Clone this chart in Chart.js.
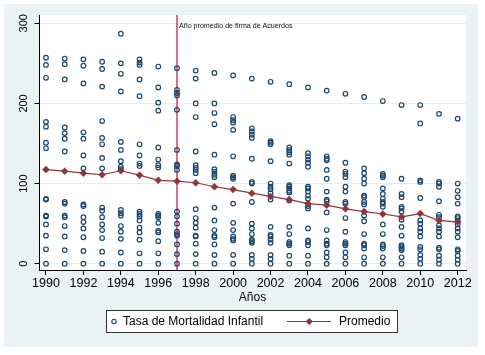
<!DOCTYPE html>
<html>
<head>
<meta charset="utf-8">
<script src="https://cdn.jsdelivr.net/npm/chart.js@4.4.1/dist/chart.umd.min.js"></script>
<style>
  html, body { margin: 0; padding: 0; background: #fff; }
  canvas { display: block; }
</style>
</head>
<body>
<canvas id="chart" width="485" height="355"></canvas>
<script>
const years = [1990, 1991, 1992, 1993, 1994, 1995, 1996, 1997, 1998, 1999, 2000, 2001,
    2002, 2003, 2004, 2005, 2006, 2007, 2008, 2009, 2010, 2011, 2012]

// tasa de mortalidad infantil, un arreglo por año
const t1990 = [257, 248, 232, 177, 171, 151, 144, 81, 80, 60, 59, 49, 35, 18, 0]
const t1991 = [256, 249, 230, 170, 163, 156, 140, 77, 75, 60, 58, 47, 34, 17, 0]
const t1992 = [255, 247, 225, 164, 156, 135, 119, 74, 72, 58, 52, 44, 33, 16, 0]
const t1993 = [252, 243, 221, 178, 157, 149, 132, 119, 70, 66, 58, 49, 42, 32, 15, 0]
const t1994 = [287, 250, 237, 215, 152, 142, 128, 121, 118, 67, 63, 60, 47, 40, 31, 14, 0]
const t1995 = [255, 251, 248, 230, 209, 149, 135, 125, 122, 65, 62, 59, 54, 45, 39, 30, 13, 0]
const t1996 = [246, 220, 201, 191, 145, 130, 123, 120, 62, 60, 58, 51, 41, 39, 28, 13, 0]
const t1997 = [244, 217, 213, 210, 192, 142, 124, 122, 117, 65, 59, 50, 40, 37, 35, 24, 12, 0]
const t1998 = [241, 231, 200, 183, 140, 123, 120, 117, 113, 68, 57, 51, 45, 35, 34, 25, 12, 0]
const t1999 = [238, 200, 188, 174, 136, 118, 115, 111, 108, 70, 54, 42, 35, 33, 24, 11, 0]
const t2000 = [235, 183, 179, 176, 167, 134, 110, 108, 106, 75, 51, 42, 34, 31, 29, 11, 0]
const t2001 = [231, 169, 165, 161, 157, 131, 102, 100, 77, 50, 44, 37, 30, 28, 26, 11, 6, 0]
const t2002 = [227, 153, 151, 149, 128, 100, 96, 93, 88, 80, 46, 36, 34, 30, 26, 11, 6, 0]
const t2003 = [224, 145, 142, 139, 136, 125, 98, 96, 94, 91, 89, 79, 46, 37, 27, 25, 23, 10, 0]
const t2004 = [220, 138, 134, 130, 126, 121, 96, 94, 90, 85, 81, 72, 69, 44, 29, 27, 23, 10, 0]
const t2005 = [216, 134, 131, 129, 117, 106, 90, 80, 78, 64, 42, 29, 25, 23, 14, 8, 0]
const t2006 = [212, 126, 115, 112, 108, 96, 90, 77, 75, 57, 40, 27, 25, 23, 14, 8, 0]
const t2007 = [208, 119, 113, 106, 100, 85, 83, 77, 74, 60, 53, 37, 25, 23, 19, 8, 0]
const t2008 = [203, 112, 110, 108, 94, 87, 81, 77, 75, 71, 49, 37, 24, 22, 19, 8, 0]
const t2009 = [198, 106, 87, 83, 71, 69, 65, 55, 46, 35, 23, 21, 19, 17, 8, 0]
const t2010 = [198, 175, 104, 102, 82, 54, 50, 44, 40, 34, 21, 18, 11, 6, 0]
const t2011 = [187, 102, 100, 96, 78, 61, 58, 48, 44, 40, 34, 20, 18, 10, 5, 0]
const t2012 = [181, 100, 91, 83, 75, 59, 57, 54, 49, 44, 40, 33, 18, 16, 10, 5, 0]

const tasas = [t1990, t1991, t1992, t1993, t1994, t1995, t1996, t1997, t1998, t1999, t2000,
    t2001, t2002, t2003, t2004, t2005, t2006, t2007, t2008, t2009, t2010, t2011, t2012]

const promedio = [117.5, 115.5, 113, 111, 116, 110.5, 104, 103, 101, 96, 92.5, 88,
    84, 80, 75, 73, 68.5, 65, 62, 58.5, 62.5, 54, 52]

const xTicks = [1990, 1992, 1994, 1996, 1998, 2000, 2002, 2004, 2006, 2008, 2010, 2012]
const yTicks = [0, 100, 200, 300]
const anioAcuerdos = 1997

const navy = "#1a476f"
const maroon = "#90353b"
const fontFamily = "'Liberation Sans', Arial, Helvetica, sans-serif"

const puntos = years.flatMap((yr, i) => tasas[i].map(v => ({ x: yr, y: v })))
const linea = years.map((yr, i) => ({ x: yr, y: promedio[i] }))

const fondo = {
    id: "fondo",
    beforeDraw(chart) {
        const { ctx, chartArea: a } = chart
        ctx.save()
        ctx.fillStyle = "#ffffff"
        ctx.fillRect(0, 0, chart.width, chart.height)
        ctx.fillStyle = "#eaf2f3"
        ctx.fillRect(4, 4, 474, 343)
        ctx.fillStyle = "#ffffff"
        ctx.fillRect(a.left, a.top, a.right - a.left, a.bottom - a.top)
        ctx.restore()
    }
}

const lineaAcuerdos = {
    id: "lineaAcuerdos",
    beforeDatasetsDraw(chart) {
        const { ctx, chartArea: a, scales } = chart
        const px = scales.x.getPixelForValue(anioAcuerdos)
        ctx.save()
        ctx.strokeStyle = "#c8143c"
        ctx.lineWidth = 1.2
        ctx.beginPath()
        ctx.moveTo(px, a.top)
        ctx.lineTo(px, a.bottom)
        ctx.stroke()
        ctx.fillStyle = "#111"
        ctx.font = "7.1px " + fontFamily
        ctx.textAlign = "left"
        ctx.textBaseline = "middle"
        ctx.fillText("Año promedio de firma de Acuerdos", px + 2, a.top + 11)
        ctx.restore()
    }
}

// etiquetas del eje y giradas, como en Stata
const etiquetasY = {
    id: "etiquetasY",
    afterDraw(chart) {
        const { ctx, scales } = chart
        ctx.save()
        ctx.fillStyle = "#000"
        ctx.font = "11px " + fontFamily
        ctx.textAlign = "center"
        ctx.textBaseline = "middle"
        yTicks.forEach(v => {
            const py = scales.y.getPixelForValue(v)
            ctx.save()
            ctx.translate(24, py)
            ctx.rotate(-Math.PI / 2)
            ctx.fillText(String(v), 0, 0)
            ctx.restore()
        })
        ctx.restore()
    }
}

const leyenda = {
    id: "leyenda",
    afterDraw(chart) {
        const { ctx } = chart
        const top = 310.5, bottom = 332.5, left = 106.5, right = 397.5
        const cy = (top + bottom) / 2
        ctx.save()
        ctx.fillStyle = "#fff"
        ctx.fillRect(left, top, right - left, bottom - top)
        ctx.strokeStyle = "#333"
        ctx.lineWidth = 1
        ctx.strokeRect(left, top, right - left, bottom - top)

        ctx.strokeStyle = navy
        ctx.lineWidth = 1.1
        ctx.beginPath()
        ctx.arc(114, cy, 2.2, 0, Math.PI * 2)
        ctx.stroke()

        ctx.strokeStyle = maroon
        ctx.lineWidth = 1.2
        ctx.beginPath()
        ctx.moveTo(287, cy)
        ctx.lineTo(331, cy)
        ctx.stroke()
        ctx.fillStyle = maroon
        ctx.beginPath()
        ctx.moveTo(309.3, cy - 3.6)
        ctx.lineTo(312.9, cy)
        ctx.lineTo(309.3, cy + 3.6)
        ctx.lineTo(305.7, cy)
        ctx.closePath()
        ctx.fill()

        ctx.fillStyle = "#000"
        ctx.font = "12px " + fontFamily
        ctx.textAlign = "left"
        ctx.textBaseline = "middle"
        ctx.fillText("Tasa de Mortalidad Infantil", 123, cy + 0.5)
        ctx.fillText("Promedio", 339, cy + 0.5)
        ctx.restore()
    }
}

new Chart(document.getElementById("chart"), {
    type: "scatter",
    data: {
        datasets: [{
            type: "line",
            label: "Promedio",
            data: linea,
            order: 1,
            borderColor: maroon,
            borderWidth: 1.2,
            pointStyle: "rectRot",
            pointRadius: 3.5,
            pointBackgroundColor: maroon,
            pointBorderColor: maroon,
            pointBorderWidth: 0.5,
            tension: 0
        }, {
            label: "Tasa de Mortalidad Infantil",
            data: puntos,
            order: 2,
            pointStyle: "circle",
            pointRadius: 2.3,
            pointBorderWidth: 1.2,
            borderColor: navy,
            backgroundColor: "rgba(0,0,0,0)"
        }]
    },
    options: {
        responsive: false,
        animation: false,
        devicePixelRatio: 1,
        layout: {
            padding: { top: 15, right: 19, bottom: 50, left: 0 }
        },
        plugins: {
            legend: { display: false },
            tooltip: { enabled: false }
        },
        scales: {
            x: {
                type: "linear",
                min: 1989.626,
                max: 2012.444,
                afterFit(scale) { scale.height = 35 },
                afterBuildTicks(scale) { scale.ticks = xTicks.map(v => ({ value: v })) },
                grid: {
                    drawOnChartArea: false,
                    drawTicks: true,
                    tickLength: 5,
                    tickColor: "#000"
                },
                border: { display: true, color: "#000", width: 1 },
                ticks: {
                    color: "#000",
                    padding: 1.5,
                    maxRotation: 0,
                    autoSkip: false,
                    font: { family: fontFamily, size: 12.5 },
                    callback: v => String(v)
                },
                title: {
                    display: true,
                    text: "Años",
                    color: "#000",
                    padding: { top: 0, bottom: 0 },
                    font: { family: fontFamily, size: 12 }
                }
            },
            y: {
                min: -7.86,
                max: 310.36,
                afterFit(scale) { scale.width = 39 },
                afterBuildTicks(scale) { scale.ticks = yTicks.map(v => ({ value: v })) },
                grid: {
                    color: "#e3eef0",
                    lineWidth: 1,
                    drawTicks: true,
                    tickLength: 4.5,
                    tickColor: "#000"
                },
                border: { display: true, color: "#000", width: 1 },
                ticks: { display: false }
            }
        }
    },
    plugins: [fondo, lineaAcuerdos, etiquetasY, leyenda]
})
</script>
</body>
</html>
